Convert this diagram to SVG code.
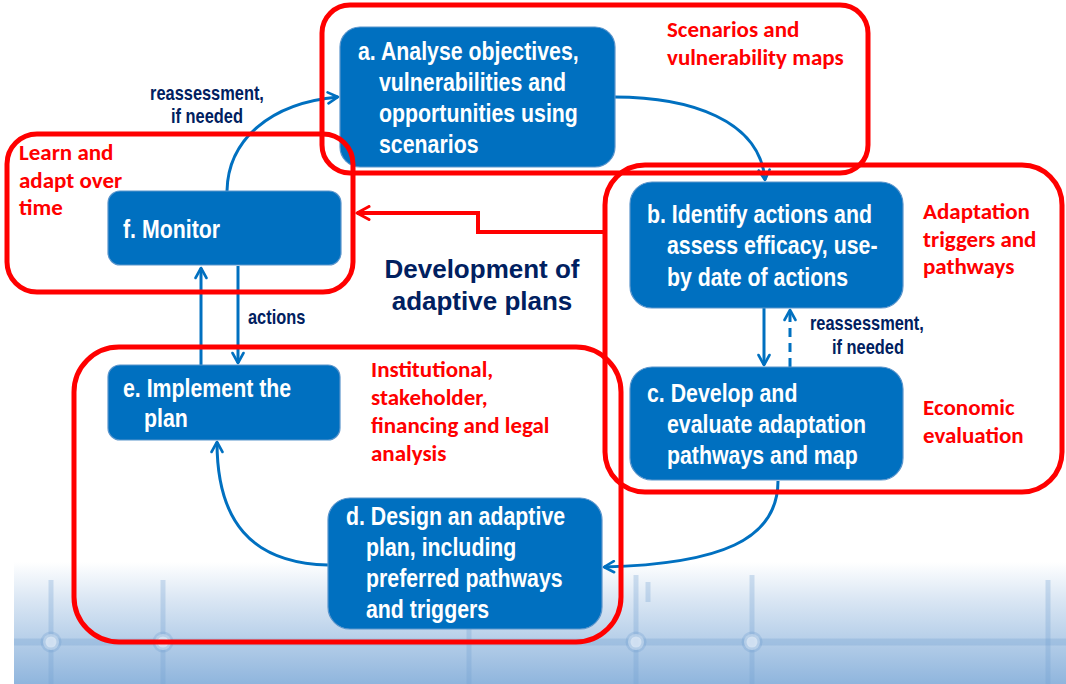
<svg xmlns="http://www.w3.org/2000/svg" width="1066" height="684" viewBox="0 0 1066 684">
<defs>
<linearGradient id="bg" x1="0" y1="0" x2="0" y2="1">
<stop offset="0" stop-color="#ffffff"/>
<stop offset="0.3" stop-color="#dbe7f4"/>
<stop offset="1" stop-color="#8fb5dd"/>
</linearGradient>
<marker id="ab" viewBox="0 0 14 14" refX="12" refY="7" markerWidth="14" markerHeight="14" markerUnits="userSpaceOnUse" orient="auto">
<path d="M2,1.5 L12,7 L2,12.5" fill="none" stroke="#0070C0" stroke-width="2.6" stroke-linecap="round" stroke-linejoin="round"/>
</marker>
<marker id="ar" viewBox="0 0 16 16" refX="14" refY="8" markerWidth="16" markerHeight="16" markerUnits="userSpaceOnUse" orient="auto">
<path d="M2,1.5 L14,8 L2,14.5" fill="none" stroke="#FF0000" stroke-width="3" stroke-linecap="round" stroke-linejoin="round"/>
</marker>
<style>
.node{fill:#0070C0;stroke:#5b95cc;stroke-width:1.2}
.nt{font-family:'Liberation Sans',Arial,sans-serif;font-weight:bold;font-size:26px;fill:#ffffff}
.lbl{font-family:'Liberation Sans',Arial,sans-serif;font-weight:bold;font-size:20px;fill:#002060}
.title{font-family:'Liberation Sans',Arial,sans-serif;font-weight:bold;font-size:26px;fill:#002060}
.rt{font-family:Carlito,Lato,sans-serif;font-weight:bold;font-size:23px;fill:#FF0000}
.rbox{fill:none;stroke:#FF0000;stroke-width:5}
.con{fill:none;stroke:#0070C0;stroke-width:3}
.pat{stroke:#6f9fd2;stroke-opacity:0.3;fill:none}
</style>
</defs>
<rect x="0" y="0" width="1066" height="684" fill="#ffffff"/>
<g id="background">
<rect x="14" y="562" width="1052" height="122" fill="url(#bg)"/>
<g class="pat">
<line x1="14" y1="642" x2="1066" y2="642" stroke-width="7"/>
<line x1="51" y1="580" x2="51" y2="684" stroke-width="5"/>
<line x1="163" y1="580" x2="163" y2="684" stroke-width="5"/>
<line x1="469" y1="600" x2="469" y2="684" stroke-width="5"/>
<line x1="636" y1="575" x2="636" y2="684" stroke-width="5"/>
<line x1="648" y1="582" x2="648" y2="602" stroke-width="5"/>
<line x1="752" y1="575" x2="752" y2="684" stroke-width="5"/>
<line x1="1048" y1="580" x2="1048" y2="684" stroke-width="5"/>
</g>
<g fill="#dfeaf6" fill-opacity="0.8" stroke="#6f9fd2" stroke-opacity="0.3" stroke-width="5">
<circle cx="51" cy="642" r="8"/>
<circle cx="163" cy="642" r="8"/>
<circle cx="636" cy="642" r="8"/>
<circle cx="752" cy="642" r="8"/>
</g>
</g>
<g id="connectors">
<path class="con" d="M227,191 C228,140 270,103 338,97" marker-end="url(#ab)"/>
<path class="con" d="M614,97 C690,97 760,120 765,180" marker-end="url(#ab)"/>
<path class="con" d="M764,308 L764,365" marker-end="url(#ab)"/>
<path class="con" d="M790,367 L790,310" stroke-dasharray="9,6" marker-end="url(#ab)"/>
<path class="con" d="M778,481 C778,540 720,564 604,567" marker-end="url(#ab)"/>
<path class="con" d="M328,565 C250,563 217,520 217,442" marker-end="url(#ab)"/>
<path class="con" d="M201,365 L201,268" marker-end="url(#ab)"/>
<path class="con" d="M238,266 L238,363" marker-end="url(#ab)"/>
<text class="lbl" transform="matrix(0.82 0 0 1 207 100)" text-anchor="middle">reassessment,</text>
<text class="lbl" transform="matrix(0.82 0 0 1 207 123)" text-anchor="middle">if needed</text>
<text class="lbl" transform="matrix(0.82 0 0 1 810 330)">reassessment,</text>
<text class="lbl" transform="matrix(0.82 0 0 1 832 354)">if needed</text>
<text class="lbl" transform="matrix(0.82 0 0 1 248 324)">actions</text>
</g>
<g id="node-a">
<rect class="node" x="340" y="27" width="275" height="140" rx="20"/>
<text class="nt" transform="matrix(0.82 0 0 1 358 60)">a. Analyse objectives,</text>
<text class="nt" transform="matrix(0.82 0 0 1 379 91)">vulnerabilities and</text>
<text class="nt" transform="matrix(0.82 0 0 1 379 122)">opportunities using</text>
<text class="nt" transform="matrix(0.82 0 0 1 379 153)">scenarios</text>
</g>
<g id="node-b">
<rect class="node" x="630" y="182" width="273" height="126" rx="22"/>
<text class="nt" transform="matrix(0.82 0 0 1 647 223)">b. Identify actions and</text>
<text class="nt" transform="matrix(0.82 0 0 1 667 254)">assess efficacy, use-</text>
<text class="nt" transform="matrix(0.82 0 0 1 667 286)">by date of actions</text>
</g>
<g id="node-c">
<rect class="node" x="630" y="367" width="273" height="113" rx="22"/>
<text class="nt" transform="matrix(0.82 0 0 1 647 402)">c. Develop and</text>
<text class="nt" transform="matrix(0.82 0 0 1 667 433)">evaluate adaptation</text>
<text class="nt" transform="matrix(0.82 0 0 1 667 464)">pathways and map</text>
</g>
<g id="node-d">
<rect class="node" x="328" y="498" width="274" height="131" rx="22"/>
<text class="nt" transform="matrix(0.82 0 0 1 346 525)">d. Design an adaptive</text>
<text class="nt" transform="matrix(0.82 0 0 1 366 556)">plan, including</text>
<text class="nt" transform="matrix(0.82 0 0 1 366 587)">preferred pathways</text>
<text class="nt" transform="matrix(0.82 0 0 1 366 618)">and triggers</text>
</g>
<g id="node-e">
<rect class="node" x="108" y="365" width="232" height="75" rx="12"/>
<text class="nt" transform="matrix(0.82 0 0 1 123 397)">e. Implement the</text>
<text class="nt" transform="matrix(0.82 0 0 1 144 427)">plan</text>
</g>
<g id="node-f">
<rect class="node" x="108" y="191" width="233" height="74" rx="12"/>
<text class="nt" transform="matrix(0.82 0 0 1 123 238)">f. Monitor</text>
</g>
<g id="title">
<text class="title" x="482" y="278" text-anchor="middle">Development of</text>
<text class="title" x="482" y="310" text-anchor="middle">adaptive plans</text>
</g>
<g id="group-scenarios">
<rect class="rbox" x="322" y="5" width="546" height="168" rx="28"/>
<text class="rt" x="667" y="37">Scenarios and</text>
<text class="rt" x="667" y="65">vulnerability maps</text>
</g>
<g id="group-learn">
<rect class="rbox" x="7" y="134" width="346" height="158" rx="30"/>
<text class="rt" x="19" y="160">Learn and</text>
<text class="rt" x="19" y="188">adapt over</text>
<text class="rt" x="19" y="215">time</text>
</g>
<g id="group-adaptation">
<rect class="rbox" x="605" y="165" width="457" height="327" rx="40"/>
<text class="rt" x="923" y="219">Adaptation</text>
<text class="rt" x="923" y="247">triggers and</text>
<text class="rt" x="923" y="274">pathways</text>
<text class="rt" x="923" y="415">Economic</text>
<text class="rt" x="923" y="443">evaluation</text>
</g>
<g id="group-institutional">
<rect class="rbox" x="74" y="347" width="547" height="295" rx="45"/>
<text class="rt" x="371" y="377">Institutional,</text>
<text class="rt" x="371" y="405">stakeholder,</text>
<text class="rt" x="371" y="433">financing and legal</text>
<text class="rt" x="371" y="461">analysis</text>
</g>
<g id="red-connector">
<path d="M605,232 L478,232 L478,213 L357,213" fill="none" stroke="#FF0000" stroke-width="4" marker-end="url(#ar)"/>
</g>
</svg>
